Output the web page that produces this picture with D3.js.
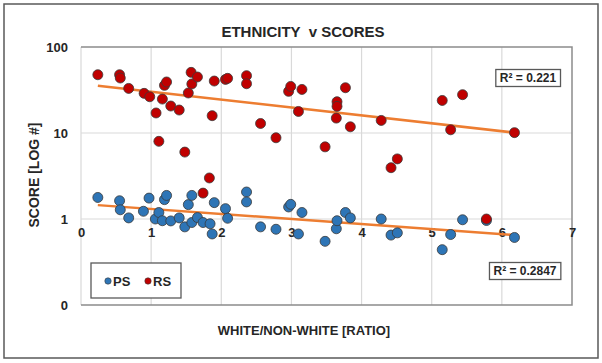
<!DOCTYPE html>
<html>
<head>
<meta charset="utf-8">
<script src="https://cdn.jsdelivr.net/npm/d3@7"></script>
<style>
  body { margin: 0; background: #fff; }
  text { font-family: "Liberation Sans", Arial, sans-serif; fill: #262626; }
</style>
</head>
<body>
<div id="container"></div>
<script>
/* scatter of scores vs white/non-white ratio, log y axis with exponential trendlines */

// PS series
const psX = [0.24, 0.55, 0.56, 0.68, 0.89, 0.97, 1.06, 1.11, 1.16, 1.19, 1.22, 1.28, 1.40, 1.48, 1.53,
  1.58, 1.58, 1.66, 1.74, 1.84, 1.87, 1.90, 2.06, 2.09, 2.36, 2.36, 2.56, 2.78, 2.96, 2.99,
  3.10, 3.15, 3.48, 3.64, 3.65, 3.77, 3.84, 4.28, 4.42, 4.51, 5.15, 5.27, 5.44, 5.78, 6.18]
const psY = [1.78, 1.63, 1.28, 1.03, 1.23, 1.75, 1.0, 1.19, 0.955, 1.68, 1.88, 0.95, 1.03, 0.81, 1.47,
  1.88, 0.91, 1.04, 0.91, 0.88, 0.67, 1.55, 1.32, 1.02, 2.06, 1.58, 0.81, 0.76, 1.38, 1.48,
  0.67, 1.19, 0.55, 0.77, 0.955, 1.19, 1.03, 1.0, 0.65, 0.69, 0.44, 0.66, 0.98, 0.96, 0.61]

// RS series
const rsX = [0.24, 0.55, 0.56, 0.68, 0.90, 0.98, 1.07, 1.11, 1.16, 1.19, 1.22, 1.28, 1.40, 1.48, 1.53,
  1.57, 1.58, 1.66, 1.74, 1.83, 1.87, 1.90, 2.06, 2.09, 2.36, 2.36, 2.56, 2.78, 2.96, 2.99,
  3.10, 3.15, 3.48, 3.64, 3.65, 3.65, 3.77, 3.84, 4.28, 4.42, 4.51, 5.15, 5.27, 5.44, 5.78, 6.18]
const rsY = [47.6, 47.6, 43.6, 33, 28.9, 26.4, 17.1, 8.0, 24.8, 35.8, 39.2, 20.6, 18.5, 6.0, 29.2,
  50.7, 37.2, 44.8, 2.0, 3.0, 15.9, 40.2, 42, 43.2, 46.4, 37.4, 12.9, 8.8, 30.5, 34.8,
  17.8, 32.1, 6.9, 14.9, 23.1, 20.4, 33.6, 11.8, 14.0, 3.95, 5.0, 23.9, 10.9, 27.9, 1.0, 10.1]

// trendline ends (x, y) and r-squared labels
const psTrend = [[0.24, 1.45], [6.18, 0.65]]
const rsTrend = [[0.24, 35.5], [6.18, 10.1]]
const psR2 = "R² = 0.2847"
const rsR2 = "R² = 0.221"

const xTicks = [0, 1, 2, 3, 4, 5, 6, 7]
const yTicks = [0.1, 1, 10, 100]
const yTickLabels = ["0", "1", "10", "100"]

const margin = { top: 47, right: 30, bottom: 58, left: 81 }
const W = 602, H = 363
const width = W - margin.left - margin.right
const height = H - margin.top - margin.bottom

const root = d3.select("#container")
  .append("svg")
  .attr("width", W)
  .attr("height", H)

// outer frame
root.append("rect")
  .attr("x", 4).attr("y", 4)
  .attr("width", W - 8).attr("height", H - 9)
  .attr("fill", "#fff")
  .attr("stroke", "#595959")
  .attr("stroke-width", 1.5)

const svg = root.append("g")
  .attr("transform", `translate(${margin.left}, ${margin.top})`)

const xScale = d3.scaleLinear().domain([0, 7]).range([0, width])
const yScale = d3.scaleLog().domain([0.1, 100]).range([height, 0])

// gridlines
svg.append("g")
  .selectAll("line")
  .data(xTicks.slice(0, -1))
  .join("line")
  .attr("x1", d => xScale(d)).attr("x2", d => xScale(d))
  .attr("y1", 0).attr("y2", height)
  .attr("stroke", "#d9d9d9")
  .attr("stroke-width", 1.2)

svg.append("g")
  .selectAll("line")
  .data([1, 10])
  .join("line")
  .attr("x1", 0).attr("x2", width)
  .attr("y1", d => yScale(d)).attr("y2", d => yScale(d))
  .attr("stroke", "#d9d9d9")
  .attr("stroke-width", 1.2)

// plot frame: top, right, bottom
svg.append("path")
  .attr("d", `M0,0H${width}V${height}H0`)
  .attr("fill", "none")
  .attr("stroke", "#8c8c8c")
  .attr("stroke-width", 1.5)

// x tick labels sit under the y=1 line (axis crosses at 1)
const xAxis = svg.append("g")
  .attr("transform", `translate(0, ${yScale(1)})`)
  .call(d3.axisBottom(xScale).tickValues(xTicks).tickSize(0).tickPadding(9).tickFormat(d3.format("d")))
xAxis.select(".domain").remove()
xAxis.selectAll("text")
  .attr("font-size", 13).attr("font-weight", "bold")
  .attr("font-family", null).attr("fill", "#262626")

const yAxis = svg.append("g")
  .call(d3.axisLeft(yScale).tickValues(yTicks).tickSize(0).tickPadding(13)
    .tickFormat((d, i) => yTickLabels[i]))
yAxis.select(".domain").remove()
yAxis.selectAll("text")
  .attr("font-size", 13).attr("font-weight", "bold")
  .attr("font-family", null).attr("fill", "#262626")

// trendlines
const line = d3.line().x(d => xScale(d[0])).y(d => yScale(d[1]))
svg.append("g")
  .selectAll("path")
  .data([rsTrend, psTrend])
  .join("path")
  .attr("d", line)
  .attr("fill", "none")
  .attr("stroke", "#ed7d31")
  .attr("stroke-width", 2.5)

// points
const series = [
  { name: "PS", xs: psX, ys: psY, color: "#2e75b6" },
  { name: "RS", xs: rsX, ys: rsY, color: "#c00000" }
]
series.forEach(s => {
  svg.append("g")
    .selectAll("circle")
    .data(s.xs.map((x, i) => [x, s.ys[i]]))
    .join("circle")
    .attr("cx", d => xScale(d[0]))
    .attr("cy", d => yScale(d[1]))
    .attr("r", 5)
    .attr("fill", s.color)
    .attr("stroke", "#3a3a3a")
    .attr("stroke-width", 0.8)
})

// r-squared boxes
function r2Box(label, cx, cy) {
  const g = svg.append("g").attr("transform", `translate(${cx}, ${cy})`)
  const t = g.append("text")
    .attr("text-anchor", "middle")
    .attr("dy", "0.35em")
    .attr("font-size", 12).attr("font-weight", "bold")
    .text(label)
  const bb = t.node().getBBox()
  g.insert("rect", "text")
    .attr("x", bb.x - 4).attr("y", -8.5)
    .attr("width", bb.width + 8).attr("height", 17)
    .attr("fill", "#fff")
    .attr("stroke", "#595959")
    .attr("stroke-width", 1.3)
}
r2Box(rsR2, 528 - margin.left, 78 - margin.top)
r2Box(psR2, 525 - margin.left, 271 - margin.top)

// legend
const legend = svg.append("g").attr("transform", `translate(${91 - margin.left}, ${263 - margin.top})`)
legend.append("rect")
  .attr("width", 90).attr("height", 35)
  .attr("fill", "#fff")
  .attr("stroke", "#595959")
  .attr("stroke-width", 1.3)
series.forEach((s, i) => {
  const lg = legend.append("g").attr("transform", `translate(${17 + i * 40}, 18)`)
  lg.append("circle").attr("r", 3.2).attr("fill", s.color).attr("stroke", "#3a3a3a").attr("stroke-width", 0.6)
  lg.append("text").attr("x", 5).attr("dy", "0.35em")
    .attr("font-size", 13).attr("font-weight", "bold")
    .text(s.name)
})

// titles
root.append("text")
  .attr("x", 303).attr("y", 37)
  .attr("text-anchor", "middle")
  .attr("font-size", 15).attr("font-weight", "bold")
  .attr("fill", "#404040")
  .style("white-space", "pre")
  .text("ETHNICITY  v SCORES")

root.append("text")
  .attr("x", 304).attr("y", 335)
  .attr("text-anchor", "middle")
  .attr("font-size", 13).attr("font-weight", "bold")
  .attr("fill", "#262626")
  .text("WHITE/NON-WHITE [RATIO]")

root.append("text")
  .attr("transform", "translate(39, 175) rotate(-90)")
  .attr("text-anchor", "middle")
  .attr("font-size", 14).attr("font-weight", "bold")
  .attr("fill", "#262626")
  .text("SCORE [LOG #]")
</script>
</body>
</html>
